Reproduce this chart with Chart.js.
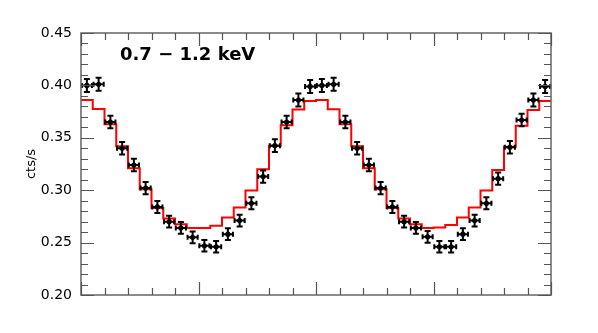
<!DOCTYPE html>
<html>
<head>
<meta charset="utf-8">
<script src="https://cdn.jsdelivr.net/npm/chart.js@4/dist/chart.umd.min.js"></script>
<style>
html,body{margin:0;padding:0;background:#fff;}
canvas{display:block;}
</style>
</head>
<body>
<canvas id="c" width="598" height="333"></canvas>
<script>
// Phase bins (two cycles, 40 bins of width 0.05)
const binWidth = 0.05;
const phaseCenters = [
  0.025,0.075,0.125,0.175,0.225,0.275,0.325,0.375,0.425,0.475,
  0.525,0.575,0.625,0.675,0.725,0.775,0.825,0.875,0.925,0.975,
  1.025,1.075,1.125,1.175,1.225,1.275,1.325,1.375,1.425,1.475,
  1.525,1.575,1.625,1.675,1.725,1.775,1.825,1.875,1.925,1.975
];
// Observed count rate (cts/s)
const rate = [
  0.400,0.401,0.365,0.340,0.324,0.302,0.284,0.270,0.264,0.255,
  0.247,0.246,0.258,0.271,0.2875,0.313,0.3425,0.365,0.386,0.399,
  0.400,0.401,0.365,0.340,0.324,0.302,0.284,0.270,0.264,0.2555,
  0.246,0.246,0.258,0.271,0.2875,0.311,0.341,0.367,0.386,0.399
];
// 1-sigma errors on rate
const rateErr = [
  0.0062,0.0062,0.006,0.006,0.006,0.0058,0.0057,0.0057,0.0056,0.0056,
  0.0055,0.0055,0.0056,0.0056,0.0057,0.0058,0.006,0.006,0.0062,0.0062,
  0.0062,0.0062,0.006,0.006,0.006,0.0058,0.0057,0.0057,0.0056,0.0056,
  0.0055,0.0055,0.0056,0.0056,0.0057,0.0058,0.006,0.006,0.0062,0.0062
];
// Model (step histogram) per bin
const model = [
  0.386,0.3775,0.363,0.342,0.321,0.301,0.283,0.273,0.2675,0.264,
  0.264,0.266,0.274,0.2834,0.2996,0.320,0.3425,0.362,0.377,0.3852,
  0.386,0.3772,0.363,0.342,0.321,0.301,0.283,0.273,0.2675,0.264,
  0.2643,0.2668,0.274,0.2834,0.2996,0.3193,0.3415,0.3616,0.3765,0.3851
];
const yTicks = [0.20,0.25,0.30,0.35,0.40,0.45];
const yLabel = 'cts/s';
const bandLabel = '0.7 \u2212 1.2 keV';

const pointData = phaseCenters.map((x,i)=>({x:x, y:rate[i]}));
const modelData = model.map((y,i)=>({x:phaseCenters[i]-binWidth/2, y:y}));
modelData.push({x:phaseCenters[phaseCenters.length-1]+binWidth/2, y:model[model.length-1]});

const errorBars = {
  id:'errorBars',
  beforeDatasetDraw(chart, args){
    if (args.index !== 1) return;
    const xs = chart.scales.x, ys = chart.scales.y, ctx = chart.ctx;
    ctx.save();
    ctx.strokeStyle = '#000';
    ctx.lineWidth = 2;
    for (let i=0;i<phaseCenters.length;i++){
      const cx = xs.getPixelForValue(phaseCenters[i]);
      const cy = ys.getPixelForValue(rate[i]);
      const x0 = xs.getPixelForValue(phaseCenters[i]-binWidth/2)+0.8;
      const x1 = xs.getPixelForValue(phaseCenters[i]+binWidth/2)-0.8;
      const y0 = ys.getPixelForValue(rate[i]+rateErr[i]);
      const y1 = ys.getPixelForValue(rate[i]-rateErr[i]);
      ctx.beginPath();
      ctx.moveTo(x0,cy); ctx.lineTo(x1,cy);
      ctx.moveTo(cx,y0); ctx.lineTo(cx,y1);
      ctx.moveTo(cx-3,y0); ctx.lineTo(cx+3,y0);
      ctx.moveTo(cx-3,y1); ctx.lineTo(cx+3,y1);
      ctx.moveTo(x0,cy-2.5); ctx.lineTo(x0,cy+2.5);
      ctx.moveTo(x1,cy-2.5); ctx.lineTo(x1,cy+2.5);
      ctx.stroke();
    }
    ctx.restore();
  }
};

const frame = {
  id:'frame',
  afterDraw(chart){
    const {ctx, chartArea:a} = chart;
    const xs = chart.scales.x, ys = chart.scales.y;
    ctx.save();
    ctx.strokeStyle = '#666';
    ctx.lineWidth = 1.5;
    ctx.strokeRect(a.left, a.top, a.right-a.left, a.bottom-a.top);
    ctx.lineWidth = 1.2;
    ctx.strokeStyle = '#555';
    ctx.beginPath();
    for (let k=0;k<=25;k++){
      const v = 0.20 + k*0.01;
      const py = Math.round(ys.getPixelForValue(v))+0.5;
      const len = (k%5===0)?13:7;
      ctx.moveTo(a.left,py); ctx.lineTo(a.left+len,py);
      ctx.moveTo(a.right,py); ctx.lineTo(a.right-len,py);
    }
    for (let k=0;k<=20;k++){
      const v = k*0.1;
      const px = Math.round(xs.getPixelForValue(v))+0.5;
      const len = (k%5===0)?13:7;
      ctx.moveTo(px,a.bottom); ctx.lineTo(px,a.bottom-len);
      ctx.moveTo(px,a.top); ctx.lineTo(px,a.top+len);
    }
    ctx.stroke();
    // band label
    ctx.fillStyle = '#000';
    ctx.font = 'bold 18px "DejaVu Sans"';
    ctx.textBaseline = 'middle';
    ctx.textAlign = 'left';
    ctx.fillText(bandLabel, a.left+39, 55);
    // y axis title
    ctx.font = '13px "DejaVu Sans"';
    ctx.translate(32, (a.top+a.bottom)/2);
    ctx.rotate(-Math.PI/2);
    ctx.textAlign = 'center';
    ctx.fillText(yLabel, 0, 0);
    ctx.restore();
  }
};

new Chart(document.getElementById('c'), {
  type:'scatter',
  data:{
    datasets:[
      {
        type:'line',
        data:modelData,
        borderColor:'#ff0000',
        borderWidth:2,
        pointRadius:0,
        stepped:'before',
        fill:false,
        order:2
      },
      {
        type:'scatter',
        data:pointData,
        backgroundColor:'#000',
        borderColor:'#000',
        pointRadius:2.6,
        borderWidth:0,
        order:1
      }
    ]
  },
  options:{
    responsive:false,
    animation:false,
    devicePixelRatio:1,
    layout:{padding:{left:0,right:47,top:33,bottom:38}},
    plugins:{legend:{display:false},tooltip:{enabled:false}},
    scales:{
      x:{
        type:'linear', min:0, max:2,
        grid:{display:false}, border:{display:false},
        ticks:{display:false},
        afterFit(s){ s.height = 0; }
      },
      y:{
        type:'linear', min:0.2, max:0.45,
        grid:{display:false, drawTicks:false}, border:{display:false},
        afterBuildTicks(s){ s.ticks = yTicks.map(v=>({value:v})); },
        ticks:{
          padding:9,
          color:'#000',
          font:{family:'DejaVu Sans', size:14},
          callback:(v)=>Number(v).toFixed(2)
        },
        afterFit(s){ s.width = 81; }
      }
    }
  },
  plugins:[errorBars, frame]
});
</script>
</body>
</html>
